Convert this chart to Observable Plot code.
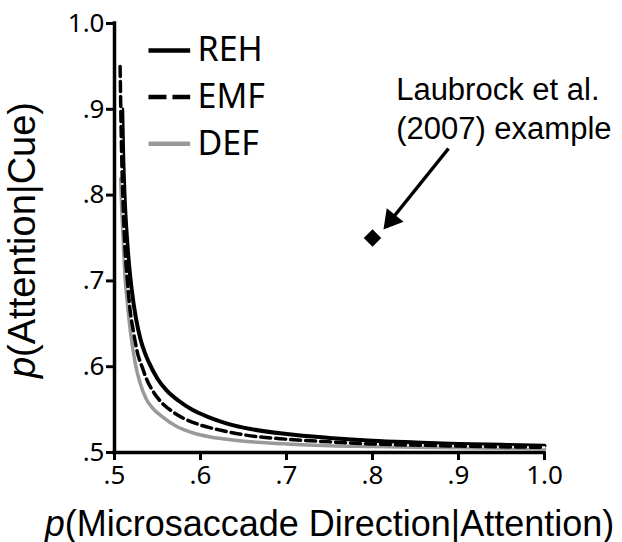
<!DOCTYPE html>
<html><head><meta charset="utf-8">
<script src="https://cdn.jsdelivr.net/npm/d3@7"></script>
<script src="https://cdn.jsdelivr.net/npm/@observablehq/plot@0.6"></script>
<style>body{margin:0;background:#fff}</style>
</head><body><div id="chart"></div>
<script>
// ---- data ----
const seriesNames = ["REH", "EMF", "DEF"];
const rehX = [0.509,0.510,0.512,0.514,0.517,0.520,0.525,0.530,0.535,0.540,0.550,0.560,0.575,0.590,0.610,0.630,0.650,0.700,0.750,0.800,0.850,0.900,0.950,1.000];
const rehY = [0.900,0.850,0.792,0.757,0.718,0.690,0.656,0.633,0.617,0.605,0.586,0.573,0.560,0.550,0.541,0.534,0.529,0.5215,0.517,0.5137,0.5117,0.510,0.5089,0.508];
const emfX = [0.5065,0.508,0.510,0.512,0.515,0.518,0.522,0.527,0.532,0.538,0.545,0.555,0.567,0.580,0.600,0.625,0.650,0.700,0.750,0.800,0.850,0.900,0.950,1.000];
const emfY = [0.950,0.8625,0.790,0.742,0.700,0.667,0.641,0.615,0.600,0.584,0.571,0.558,0.548,0.540,0.532,0.5256,0.5207,0.5155,0.5124,0.510,0.5086,0.5075,0.5067,0.506];
const defX = [0.5072,0.5085,0.510,0.512,0.5147,0.5186,0.5244,0.530,0.537,0.545,0.555,0.5729,0.590,0.6116,0.640,0.666,0.700,0.750,0.800,0.850,0.900,0.950,1.000];
const defY = [0.819,0.782,0.750,0.708,0.677,0.640,0.6025,0.580,0.562,0.551,0.542,0.530,0.5233,0.518,0.5143,0.512,0.510,0.508,0.507,0.506,0.5055,0.5049,0.5044];
const exampleX = [0.8];
const exampleY = [0.75];
const exampleLabel = "Laubrock et al.\n(2007) example";
const xTicks = [0.5, 0.6, 0.7, 0.8, 0.9, 1.0];
const yTicks = [0.5, 0.6, 0.7, 0.8, 0.9, 1.0];
const tickLabels = [".5", ".6", ".7", ".8", ".9", "1.0"];
const xTitle = "(Microsaccade Direction|Attention)";
const yTitle = "(Attention|Cue)";

// ---- build tables ----
const toRows = (name, xs, ys) => xs.map((x, i) => ({series: name, x, y: ys[i]}));
const reh = toRows("REH", rehX, rehY);
const emf = toRows("EMF", emfX, emfY);
const def = toRows("DEF", defX, defY);
const example = exampleX.map((x, i) => ({x, y: exampleY[i]}));
const fmt = d => tickLabels[xTicks.findIndex(t => Math.abs(t - d) < 1e-9)];

// ---- styles / layout ----
const tickFont = "Noto Sans, Open Sans, sans-serif";
const labelFont = "Liberation Sans, Arial, sans-serif";
const legendStyle = {
  REH: {stroke: "#000", strokeWidth: 4.5},
  EMF: {stroke: "#000", strokeWidth: 4.5, strokeDasharray: "18,6"},
  DEF: {stroke: "#999", strokeWidth: 4.5}
};
const legendLayout = {x1: 0.5395, x2: 0.588, xText: 0.5965, yTop: 0.9685, yStep: 0.0543};
const arrowLayout = {x1: 0.8884, y1: 0.8543, x2: 0.8174, y2: 0.7657};
const labelLayout = {x: 0.8275, y: 0.9430};

const legendRows = seriesNames.map((s, i) => ({series: s, y: legendLayout.yTop - i * legendLayout.yStep}));

const chart = Plot.plot({
  width: 622,
  height: 542,
  marginLeft: 114,
  marginRight: 78,
  marginTop: 23,
  marginBottom: 90,
  style: {fontFamily: tickFont, background: "#fff", color: "#000"},
  x: {domain: [0.5, 1.0]},
  y: {domain: [0.5, 1.0]},
  marks: [
    Plot.axisX({ticks: xTicks, tickFormat: fmt, tickSize: 8, tickPadding: 5, strokeWidth: 3, fontSize: 26, label: null}),
    Plot.axisY({ticks: yTicks, tickFormat: fmt, tickSize: 8, tickPadding: 2, strokeWidth: 3, fontSize: 26, label: null}),
    Plot.line(def, {x: "x", y: "y", stroke: "#999", strokeWidth: 3.5, curve: "monotone-x"}),
    Plot.line(reh, {x: "x", y: "y", stroke: "#000", strokeWidth: 4, curve: "monotone-x"}),
    Plot.line(emf, {x: "x", y: "y", stroke: "#fff", strokeWidth: 2, curve: "monotone-x"}),
    Plot.line(emf, {x: "x", y: "y", stroke: "#000", strokeWidth: 3.5, strokeDasharray: "10,5", curve: "monotone-x"}),
    Plot.ruleX([0.5], {strokeWidth: 3.5, strokeLinecap: "square"}),
    Plot.ruleY([0.5], {strokeWidth: 3.5, strokeLinecap: "square"}),
    // legend
    ...legendRows.map(r => Plot.link([r], {x1: () => legendLayout.x1, x2: () => legendLayout.x2, y1: "y", y2: "y", ...legendStyle[r.series]})),
    Plot.text(legendRows, {x: () => legendLayout.xText, y: "y", text: "series", textAnchor: "start", lineAnchor: "middle", fontSize: 34, fontFamily: tickFont}),
    // example point + annotation
    Plot.dot(example, {x: "x", y: "y", symbol: "square", r: 7, rotate: 45, fill: "#000"}),
    Plot.link([arrowLayout], {x1: "x1", y1: "y1", x2: "x2", y2: "y2", stroke: "#000", strokeWidth: 3.5}),
    Plot.dot([arrowLayout], {x: "x2", y: "y2", symbol: "triangle", r: 8, rotate: 218.7, fill: "#000", dx: 3.8, dy: -4.7}),
    Plot.text([exampleLabel], {x: () => labelLayout.x, y: () => labelLayout.y, text: d => d, textAnchor: "start", lineAnchor: "top", lineHeight: 1.25, fontSize: 31, fontFamily: labelFont}),
    // axis titles
    Plot.text([xTitle], {frameAnchor: "bottom", text: d => d, textAnchor: "middle", dy: 83, lineAnchor: "bottom", fontSize: 36, fontFamily: labelFont}),
    Plot.text([yTitle], {frameAnchor: "left", text: d => d, textAnchor: "middle", rotate: -90, dx: -80, dy: 2, lineAnchor: "bottom", fontSize: 38, fontFamily: labelFont})
  ]
});

// italic "p" prefix on axis titles (kept as real text)
d3.select(chart).selectAll("text").each(function() {
  const t = this.textContent;
  if (t === xTitle || t === yTitle) {
    const el = d3.select(this);
    el.text(null);
    el.append("tspan").attr("font-style", "italic").text("p");
    el.append("tspan").text(t);
  }
});

document.getElementById("chart").appendChild(chart);
</script>
</body></html>
